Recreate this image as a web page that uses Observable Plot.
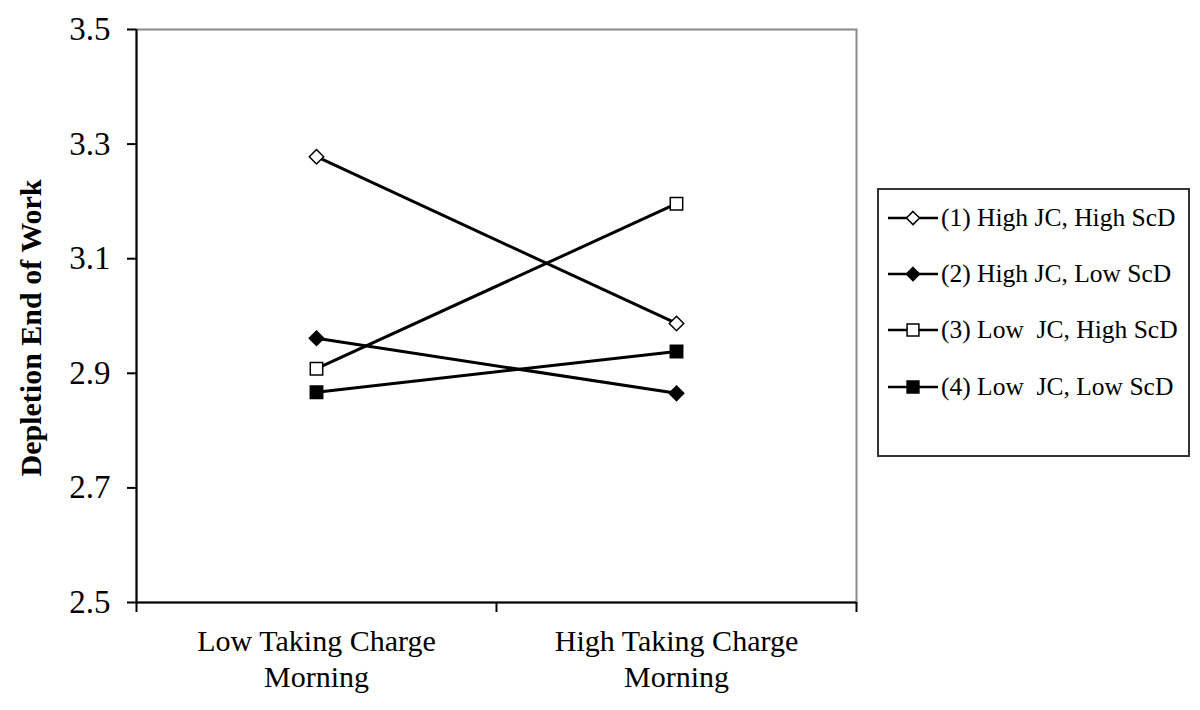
<!DOCTYPE html>
<html><head><meta charset="utf-8">
<script src="https://cdn.jsdelivr.net/npm/d3@7"></script>
<script src="https://cdn.jsdelivr.net/npm/@observablehq/plot@0.6"></script>
<style>
body{margin:0;background:#fff;}
#wrap{position:relative;width:1200px;height:710px;font-family:"Liberation Serif","Times New Roman",serif;}
#legend{position:absolute;left:877px;top:188px;width:309px;height:265px;border:2px solid #333;background:#fff;}
.row{position:absolute;left:8px;height:30px;display:flex;align-items:center;white-space:pre;font-size:25.5px;color:#000;}
.row svg{margin-right:2px;}
</style></head>
<body><div id="wrap"></div>
<script>
const categories = ["Low Taking Charge\nMorning", "High Taking Charge\nMorning"];
const seriesLabels = ["(1) High JC, High ScD", "(2) High JC, Low ScD", "(3) Low  JC, High ScD", "(4) Low  JC, Low ScD"];
const lowTCValues = [3.278, 2.961, 2.908, 2.867];
const highTCValues = [2.987, 2.865, 3.196, 2.938];
const seriesSymbols = ["diamond2", "diamond2", "square", "square"];
const seriesFills = ["white", "black", "white", "black"];
const yTicks = [2.5, 2.7, 2.9, 3.1, 3.3, 3.5];
const yTitle = "Depletion End of Work";

const data = seriesLabels.flatMap((s, i) => [
  {series: s, idx: i, pos: 0.5, value: lowTCValues[i]},
  {series: s, idx: i, pos: 1.5, value: highTCValues[i]}
]);

const chart = Plot.plot({
  width: 1200, height: 710,
  marginLeft: 136, marginRight: 344, marginTop: 29, marginBottom: 108,
  style: {fontFamily: '"Liberation Serif","Times New Roman",serif', color: "black", background: "white"},
  x: {domain: [0, 2]},
  y: {domain: [2.5, 3.5]},
  marks: [
    Plot.frame({stroke: "#8a8a8a", strokeWidth: 2}),
    Plot.ruleX([0], {stroke: "black", strokeWidth: 2}),
    Plot.ruleY([2.5], {stroke: "black", strokeWidth: 2}),
    Plot.axisY({ticks: yTicks, tickFormat: ".1f", tickSize: 9, tickPadding: 17, fontSize: 33, strokeWidth: 2, label: null}),
    Plot.axisX({ticks: [0, 1, 2], tickSize: 10, tickFormat: () => "", strokeWidth: 2, label: null}),
    Plot.axisX({ticks: [0.5, 1.5], tickSize: 0, tickPadding: 24, tickFormat: d => categories[Math.floor(d)], fontSize: 30, lineHeight: 1.17, label: null}),
    Plot.text([yTitle], {frameAnchor: "left", textAnchor: "middle", rotate: -90, dx: -105, dy: 12, fontSize: 30, fontWeight: "bold"}),
    Plot.line(data, {x: "pos", y: "value", z: "series", stroke: "black", strokeWidth: 3}),
    Plot.dot(data.filter(d => seriesSymbols[d.idx] === "diamond2"), {x: "pos", y: "value", symbol: d => seriesSymbols[d.idx], fill: d => seriesFills[d.idx], stroke: "black", strokeWidth: 1.5, r: 6.5}),
    Plot.dot(data.filter(d => seriesSymbols[d.idx] === "square"), {x: "pos", y: "value", symbol: d => seriesSymbols[d.idx], fill: d => seriesFills[d.idx], stroke: "black", strokeWidth: 1.5, r: 7})
  ]
});

const wrap = document.getElementById("wrap");
wrap.appendChild(chart);

const legend = document.createElement("div");
legend.id = "legend";
wrap.appendChild(legend);
const d3sym = {diamond2: d3.symbolDiamond2, square: d3.symbolSquare};
const rowCenters = [28, 84, 140, 197];
seriesLabels.forEach((s, i) => {
  const row = document.createElement("div");
  row.className = "row";
  row.style.top = (rowCenters[i] - 15) + "px";
  const svg = d3.create("svg").attr("width", 52).attr("height", 30);
  svg.append("line").attr("x1", 1).attr("x2", 51).attr("y1", 15).attr("y2", 15).attr("stroke", "black").attr("stroke-width", 2.5);
  const size = seriesSymbols[i] === "square" ? 140 : 110;
  svg.append("path").attr("transform", "translate(26,15)")
    .attr("d", d3.symbol(d3sym[seriesSymbols[i]], size)())
    .attr("fill", seriesFills[i]).attr("stroke", "black").attr("stroke-width", 1.5);
  row.appendChild(svg.node());
  const span = document.createElement("span");
  span.textContent = s;
  row.appendChild(span);
  legend.appendChild(row);
});
</script>
</body></html>
